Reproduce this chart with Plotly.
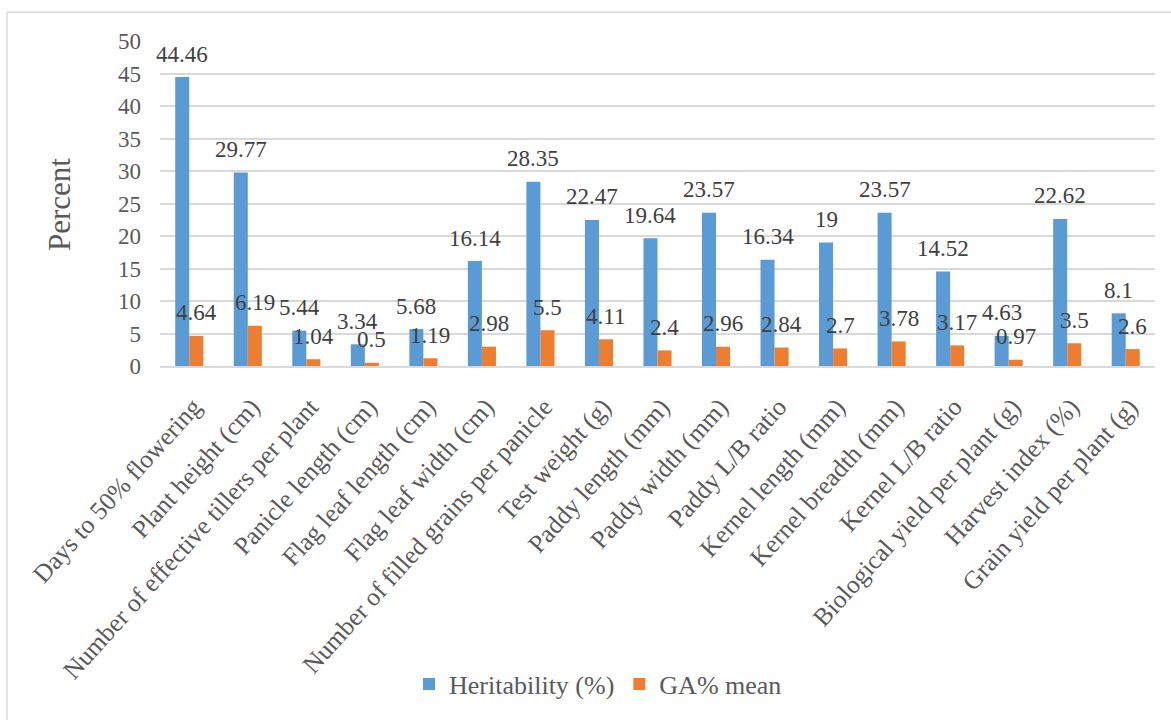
import plotly.graph_objects as go

categories = [
    "Days to 50% flowering", "Plant height (cm)", "Number of effective tillers per plant",
    "Panicle length (cm)", "Flag leaf length (cm)", "Flag leaf width (cm)",
    "Number of filled grains per panicle", "Test weight (g)", "Paddy length (mm)",
    "Paddy width (mm)", "Paddy L/B ratio", "Kernel length (mm)", "Kernel breadth (mm)",
    "Kernel L/B ratio", "Biological yield per plant (g)", "Harvest index (%)",
    "Grain yield per plant (g)",
]
heritability = [44.46, 29.77, 5.44, 3.34, 5.68, 16.14, 28.35, 22.47, 19.64, 23.57,
                16.34, 19, 23.57, 14.52, 4.63, 22.62, 8.1]
ga_mean = [4.64, 6.19, 1.04, 0.5, 1.19, 2.98, 5.5, 4.11, 2.4, 2.96,
           2.84, 2.7, 3.78, 3.17, 0.97, 3.5, 2.6]
y_ticks = list(range(0, 51, 5))

FONT = "Liberation Serif"
BLUE = "#5B9BD5"
ORANGE = "#ED7D31"

W, H = 1171, 720
L, R, T, B = 160, 16, 41, 350
pw, ph = W - L - R, H - T - B

def px_x(p):
    return (p - L) / pw

def px_y(p):
    return (H - B - p) / ph

fig = go.Figure()
fig.add_trace(go.Bar(name="Heritability (%)", x=categories, y=heritability,
                     marker_color=BLUE, marker_line_width=0))
fig.add_trace(go.Bar(name="GA% mean", x=categories, y=ga_mean,
                     marker_color=ORANGE, marker_line_width=0))

bar_px = pw / len(categories) * 0.24
annotations = []
for series, shift in ((heritability, -bar_px / 2), (ga_mean, bar_px / 2)):
    for c, v in zip(categories, series):
        annotations.append(dict(x=c, y=v, xref="x", yref="y", text=f"{v:g}",
                                showarrow=False, xshift=shift, yshift=23,
                                yanchor="middle", xanchor="center",
                                font=dict(family=FONT, size=23, color="#404040")))

annotations.append(dict(x=px_x(60), y=px_y(207), xref="paper", yref="paper",
                        text="Percent", textangle=-90, showarrow=False,
                        xanchor="center", yanchor="middle",
                        font=dict(family=FONT, size=31, color="#595959")))

fig.update_layout(
    width=W, height=H,
    margin=dict(l=L, r=R, t=T, b=B),
    paper_bgcolor="white", plot_bgcolor="white",
    barmode="group", bargap=0.52, bargroupgap=0,
    font=dict(family=FONT, color="#595959"),
    xaxis=dict(type="category", tickangle=-48, showgrid=False,
               tickfont=dict(family=FONT, size=25.5, color="#595959"),
               showline=True, linecolor="#D9D9D9", linewidth=1.5,
               ticks="", ticklabelstandoff=14, ticklabelshift=4,
               range=[-0.5, len(categories) - 0.5]),
    yaxis=dict(range=[0, 50], tickvals=y_ticks, showgrid=True,
               gridcolor="#D9D9D9", gridwidth=1.5, zeroline=False,
               showline=False, ticks="", ticklabelstandoff=18,
               tickfont=dict(family=FONT, size=23, color="#595959")),
    legend=dict(orientation="h", x=px_x(598), xanchor="center",
                y=px_y(692), yanchor="middle",
                font=dict(family=FONT, size=26, color="#595959"),
                itemwidth=30, traceorder="normal"),
    annotations=annotations,
    shapes=[dict(type="rect", xref="paper", yref="paper",
                 x0=px_x(7), x1=px_x(1200), y0=px_y(760), y1=px_y(12),
                 line=dict(color="#D9D9D9", width=1.5), fillcolor="rgba(0,0,0,0)",
                 layer="below")],
)

fig.write_html("out.html")
